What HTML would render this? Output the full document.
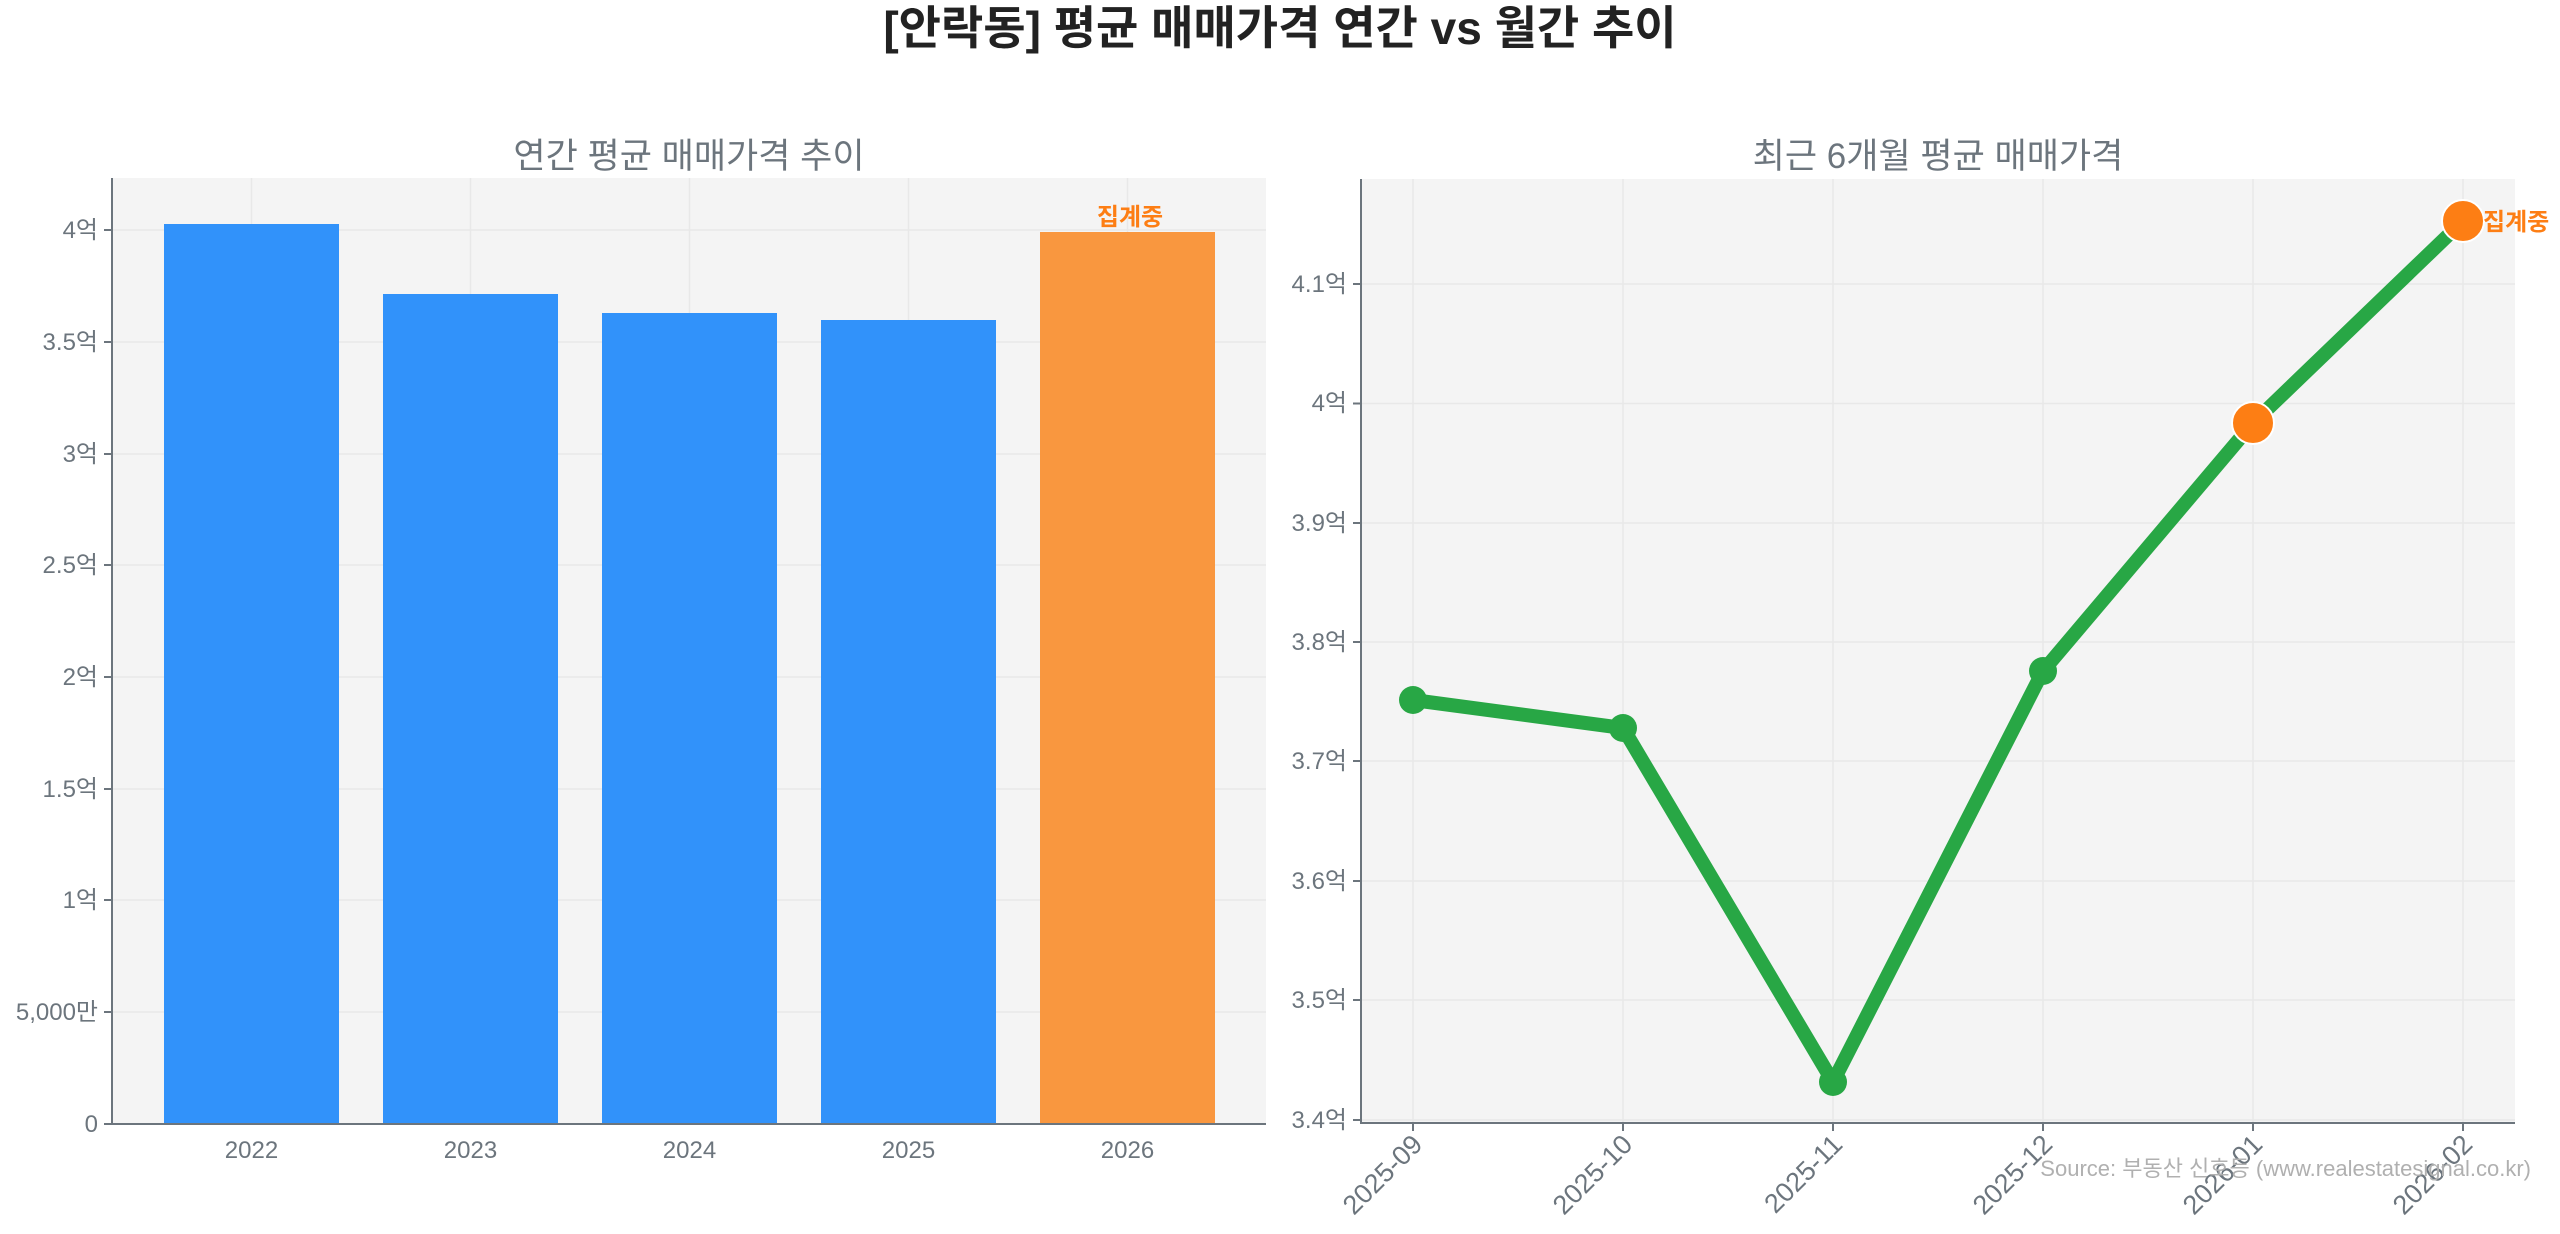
<!DOCTYPE html>
<html><head><meta charset="utf-8"><style>
html,body{margin:0;padding:0;background:#fff;}
svg{display:block;font-family:"Liberation Sans","Noto Sans CJK KR",sans-serif;}
</style></head><body>
<svg width="2560" height="1234" viewBox="0 0 2560 1234" xmlns="http://www.w3.org/2000/svg">
<text x="1280" y="44" text-anchor="middle" font-size="46" font-weight="bold" fill="#222">[안락동] 평균 매매가격 연간 vs 월간 추이</text>

<!-- LEFT -->
<text x="689" y="168" text-anchor="middle" font-size="35" fill="#6c757d">연간 평균 매매가격 추이</text>
<rect x="112" y="178" width="1154" height="946" fill="#f4f4f4"/>
<g stroke="#e8e8e8" stroke-width="1.5">
<line x1="112" x2="1266" y1="230" y2="230"/><line x1="112" x2="1266" y1="342" y2="342"/>
<line x1="112" x2="1266" y1="454" y2="454"/><line x1="112" x2="1266" y1="565" y2="565"/>
<line x1="112" x2="1266" y1="677" y2="677"/><line x1="112" x2="1266" y1="789" y2="789"/>
<line x1="112" x2="1266" y1="900" y2="900"/><line x1="112" x2="1266" y1="1012" y2="1012"/>
<line x1="251.5" x2="251.5" y1="178" y2="1124"/><line x1="470.5" x2="470.5" y1="178" y2="1124"/>
<line x1="689.5" x2="689.5" y1="178" y2="1124"/><line x1="908.5" x2="908.5" y1="178" y2="1124"/>
<line x1="1127.5" x2="1127.5" y1="178" y2="1124"/>
</g>
<rect x="164" y="224" width="175" height="900" fill="#3192fa"/>
<rect x="383" y="294" width="175" height="830" fill="#3192fa"/>
<rect x="602" y="313" width="175" height="811" fill="#3192fa"/>
<rect x="821" y="320" width="175" height="804" fill="#3192fa"/>
<rect x="1040" y="232" width="175" height="892" fill="#f9973f"/>
<text x="1130" y="225" text-anchor="middle" font-size="24" font-weight="bold" fill="#fd7e14">집계중</text>
<line x1="112" y1="178" x2="112" y2="1125" stroke="#6c757d" stroke-width="2"/>
<line x1="111" y1="1124" x2="1266" y2="1124" stroke="#6c757d" stroke-width="2"/>
<g font-size="24" fill="#6c757d" text-anchor="end">
<text x="98" y="238">4억</text><text x="98" y="350">3.5억</text><text x="98" y="462">3억</text>
<text x="98" y="573">2.5억</text><text x="98" y="685">2억</text><text x="98" y="797">1.5억</text>
<text x="98" y="908">1억</text><text x="98" y="1020">5,000만</text><text x="98" y="1132">0</text>
</g>
<g stroke="#6c757d" stroke-width="2">
<line x1="104" x2="112" y1="230" y2="230"/><line x1="104" x2="112" y1="342" y2="342"/><line x1="104" x2="112" y1="454" y2="454"/>
<line x1="104" x2="112" y1="565" y2="565"/><line x1="104" x2="112" y1="677" y2="677"/><line x1="104" x2="112" y1="789" y2="789"/>
<line x1="104" x2="112" y1="900" y2="900"/><line x1="104" x2="112" y1="1012" y2="1012"/><line x1="104" x2="112" y1="1124" y2="1124"/>
</g>
<g font-size="24" fill="#6c757d" text-anchor="middle">
<text x="251.5" y="1158">2022</text><text x="470.5" y="1158">2023</text><text x="689.5" y="1158">2024</text>
<text x="908.5" y="1158">2025</text><text x="1127.5" y="1158">2026</text>
</g>

<!-- RIGHT -->
<text x="1938" y="168" text-anchor="middle" font-size="35" fill="#6c757d">최근 6개월 평균 매매가격</text>
<rect x="1361" y="179" width="1154" height="944" fill="#f4f4f4"/>
<g stroke="#e8e8e8" stroke-width="1.5">
<line x1="1361" x2="2515" y1="284" y2="284"/><line x1="1361" x2="2515" y1="403.5" y2="403.5"/>
<line x1="1361" x2="2515" y1="523" y2="523"/><line x1="1361" x2="2515" y1="642" y2="642"/>
<line x1="1361" x2="2515" y1="761" y2="761"/><line x1="1361" x2="2515" y1="881" y2="881"/>
<line x1="1361" x2="2515" y1="1000" y2="1000"/><line x1="1361" x2="2515" y1="1120" y2="1120"/>
<line x1="1413" x2="1413" y1="179" y2="1123"/><line x1="1623" x2="1623" y1="179" y2="1123"/>
<line x1="1833" x2="1833" y1="179" y2="1123"/><line x1="2043" x2="2043" y1="179" y2="1123"/>
<line x1="2253" x2="2253" y1="179" y2="1123"/><line x1="2463" x2="2463" y1="179" y2="1123"/>
</g>
<polyline points="1413,700 1623,728 1833,1082 2043,671 2253,423 2463,221" fill="none" stroke="#28a745" stroke-width="14" stroke-linejoin="round"/>
<circle cx="1413" cy="700" r="14" fill="#28a745"/><circle cx="1623" cy="728" r="14" fill="#28a745"/>
<circle cx="1833" cy="1082" r="14" fill="#28a745"/><circle cx="2043" cy="671" r="14" fill="#28a745"/>
<circle cx="2253" cy="423" r="21" fill="#fd7e14" stroke="#fff" stroke-width="2"/>
<circle cx="2463" cy="221" r="21" fill="#fd7e14" stroke="#fff" stroke-width="2"/>
<text x="2483" y="230" font-size="24" font-weight="bold" fill="#fd7e14">집계중</text>
<line x1="1361" y1="179" x2="1361" y2="1124" stroke="#6c757d" stroke-width="2"/>
<line x1="1360" y1="1123" x2="2515" y2="1123" stroke="#6c757d" stroke-width="2"/>
<g font-size="24" fill="#6c757d" text-anchor="end">
<text x="1347" y="292">4.1억</text><text x="1347" y="411">4억</text><text x="1347" y="531">3.9억</text>
<text x="1347" y="650">3.8억</text><text x="1347" y="769">3.7억</text><text x="1347" y="889">3.6억</text>
<text x="1347" y="1008">3.5억</text><text x="1347" y="1128">3.4억</text>
</g>
<g stroke="#6c757d" stroke-width="2">
<line x1="1353" x2="1361" y1="284" y2="284"/><line x1="1353" x2="1361" y1="403.5" y2="403.5"/><line x1="1353" x2="1361" y1="523" y2="523"/>
<line x1="1353" x2="1361" y1="642" y2="642"/><line x1="1353" x2="1361" y1="761" y2="761"/><line x1="1353" x2="1361" y1="881" y2="881"/>
<line x1="1353" x2="1361" y1="1000" y2="1000"/><line x1="1353" x2="1361" y1="1120" y2="1120"/>
<line x1="1413" x2="1413" y1="1123" y2="1131"/><line x1="1623" x2="1623" y1="1123" y2="1131"/><line x1="1833" x2="1833" y1="1123" y2="1131"/>
<line x1="2043" x2="2043" y1="1123" y2="1131"/><line x1="2253" x2="2253" y1="1123" y2="1131"/><line x1="2463" x2="2463" y1="1123" y2="1131"/>
</g>
<g font-size="27" fill="#6c757d" text-anchor="end">
<text transform="translate(1424,1146) rotate(-45)">2025-09</text>
<text transform="translate(1634,1146) rotate(-45)">2025-10</text>
<text transform="translate(1844,1146) rotate(-45)">2025-11</text>
<text transform="translate(2054,1146) rotate(-45)">2025-12</text>
<text transform="translate(2264,1146) rotate(-45)">2026-01</text>
<text transform="translate(2474,1146) rotate(-45)">2026-02</text>
</g>
<text x="2531" y="1176" text-anchor="end" font-size="22" fill="#b0b0b0">Source: 부동산 신호등 (www.realestatesignal.co.kr)</text>
</svg>
</body></html>
